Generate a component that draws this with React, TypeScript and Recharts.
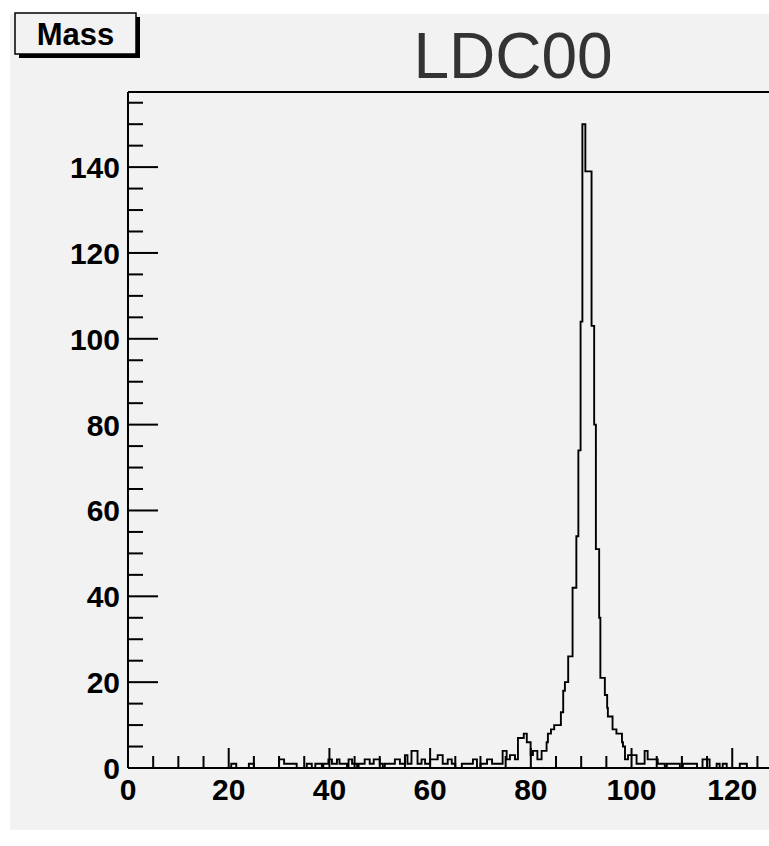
import React from "react";
import { LineChart, Line, XAxis, YAxis, ReferenceLine } from "recharts";

// left edge of each bin (GeV) and its content; last edge closes the histogram
const binEdges = [
  0, 20.5, 21.5, 24, 25, 30, 31, 33.5, 35.5, 36.5, 37.2, 38.5, 38.8, 39.8, 40.5,
  41.5, 42, 43.5, 43.8, 44.5, 45.5, 45.8, 47, 48, 48.8, 50, 50.6, 51, 53, 54, 55,
  55.5, 56.3, 57.5, 58.3, 59, 60, 61.5, 62.5, 63.5, 64.3, 65, 66.3, 68.5, 69.3,
  70, 71.3, 72.3, 74.4, 75.2, 75.85, 76.85, 77.44, 78.6, 79.2, 79.96, 80.42,
  81.3, 82.14, 83.13, 83.39, 84, 84.64, 85.97, 86.43, 86.77, 87.42, 88.29,
  89.04, 89.44, 89.88, 90.24, 90.83, 92.06, 92.58, 92.92, 93.57, 93.81, 94.7,
  95.16, 95.3, 96.23, 97, 98.1, 98.3, 98.7, 99.3, 101, 102.6, 103.2, 105.2,
  106.6, 107, 109.6, 110.2, 113, 114.1, 115.5, 116.9, 117.5, 118.1, 118.9,
  121.5, 122.9, 127.3,
];
const binCounts = [
  0, 1, 0, 1, 0, 2, 1, 0, 1, 0, 1, 0, 1, 2, 1,
  2, 1, 0, 2, 1, 0, 1, 2, 1, 2, 1, 0, 1, 2, 1, 3,
  1, 4, 1, 2, 1, 2, 3, 1, 2, 1, 0, 1, 2, 0,
  1, 2, 1, 4, 2, 3, 2, 7, 8, 6, 3, 4,
  2, 4, 6, 8, 9, 10, 13, 18, 20, 26, 42,
  54, 74, 104, 150, 139, 103, 80, 51, 35, 21, 17,
  14, 12, 9, 8, 6, 5, 2, 3, 1, 4, 2, 1,
  0, 1, 0, 1, 0, 2, 0, 1, 0, 1, 0,
  1, 0, 0,
];

const yTicks = [
  0, 5, 10, 15, 20, 25, 30, 35, 40, 45, 50, 55, 60, 65, 70, 75, 80, 85, 90, 95,
  100, 105, 110, 115, 120, 125, 130, 135, 140, 145, 150, 155,
];
const xTicks = [
  0, 5, 10, 15, 20, 25, 30, 35, 40, 45, 50, 55, 60, 65, 70, 75, 80, 85, 90, 95,
  100, 105, 110, 115, 120, 125,
];

const X_MAX = 127.3;
const Y_MAX = 157.5;
const FONT = "'Liberation Sans', Arial, Helvetica, sans-serif";

const data = binEdges.map((x, i) => ({ x, count: binCounts[i] }));

const YTick = (props: any) => {
  const { x, y, payload } = props;
  const v = payload.value;
  const major = v % 20 === 0;
  return (
    <g>
      <line x1={x} x2={x + (major ? 30 : 15)} y1={y} y2={y} stroke="#000" strokeWidth={2} />
      {major && (
        <text x={x - 8} y={y + 11} textAnchor="end" fontFamily={FONT} fontWeight="bold" fontSize={30} fill="#000">
          {v}
        </text>
      )}
    </g>
  );
};

const XTick = (props: any) => {
  const { x, y, payload } = props;
  const v = payload.value;
  const major = v % 20 === 0;
  return (
    <g>
      <line x1={x} x2={x} y1={y} y2={y - (major ? 20 : 12)} stroke="#000" strokeWidth={2} />
      {major && (
        <text x={x} y={y + 32} textAnchor="middle" fontFamily={FONT} fontWeight="bold" fontSize={30} fill="#000">
          {v}
        </text>
      )}
    </g>
  );
};

export default function App() {
  return (
    <div style={{ position: "absolute", left: 0, top: 0, width: 769, height: 846, background: "#fff", overflow: "hidden" }}>
      <div style={{ position: "absolute", left: 10, top: 14, width: 759, height: 816, background: "#f2f2f2" }} />
      <div style={{ position: "absolute", left: 0, top: 0 }}>
        <LineChart width={769} height={846} data={data} margin={{ top: 92, right: 0, bottom: 0, left: 0 }}>
          <XAxis
            dataKey="x"
            type="number"
            domain={[0, X_MAX]}
            ticks={xTicks}
            interval={0}
            allowDataOverflow
            height={78}
            tickSize={0}
            tickMargin={0}
            tickLine={false}
            axisLine={{ stroke: "#000", strokeWidth: 2 }}
            tick={<XTick />}
          />
          <YAxis
            type="number"
            domain={[0, Y_MAX]}
            ticks={yTicks}
            interval={0}
            allowDataOverflow
            width={128}
            tickSize={0}
            tickMargin={0}
            tickLine={false}
            axisLine={{ stroke: "#000", strokeWidth: 2 }}
            tick={<YTick />}
          />
          <ReferenceLine y={Y_MAX} stroke="#000" strokeWidth={2} />
          <Line
            type="stepAfter"
            dataKey="count"
            stroke="#000"
            strokeWidth={1.9}
            dot={false}
            isAnimationActive={false}
          />
        </LineChart>
      </div>
      <svg width={769} height={846} style={{ position: "absolute", left: 0, top: 0, pointerEvents: "none" }}>
        <rect x={19} y={17} width={121} height={41} fill="#000" />
        <rect x={15} y={13} width={121} height={41} fill="#f2f2f2" stroke="#000" strokeWidth={1.5} />
        <text x={75.5} y={45} textAnchor="middle" fontFamily={FONT} fontWeight="bold" fontSize={31} fill="#000">
          Mass
        </text>
        <text x={513} y={78} textAnchor="middle" fontFamily={FONT} fontSize={64} fill="#333">
          LDC00
        </text>
      </svg>
    </div>
  );
}
